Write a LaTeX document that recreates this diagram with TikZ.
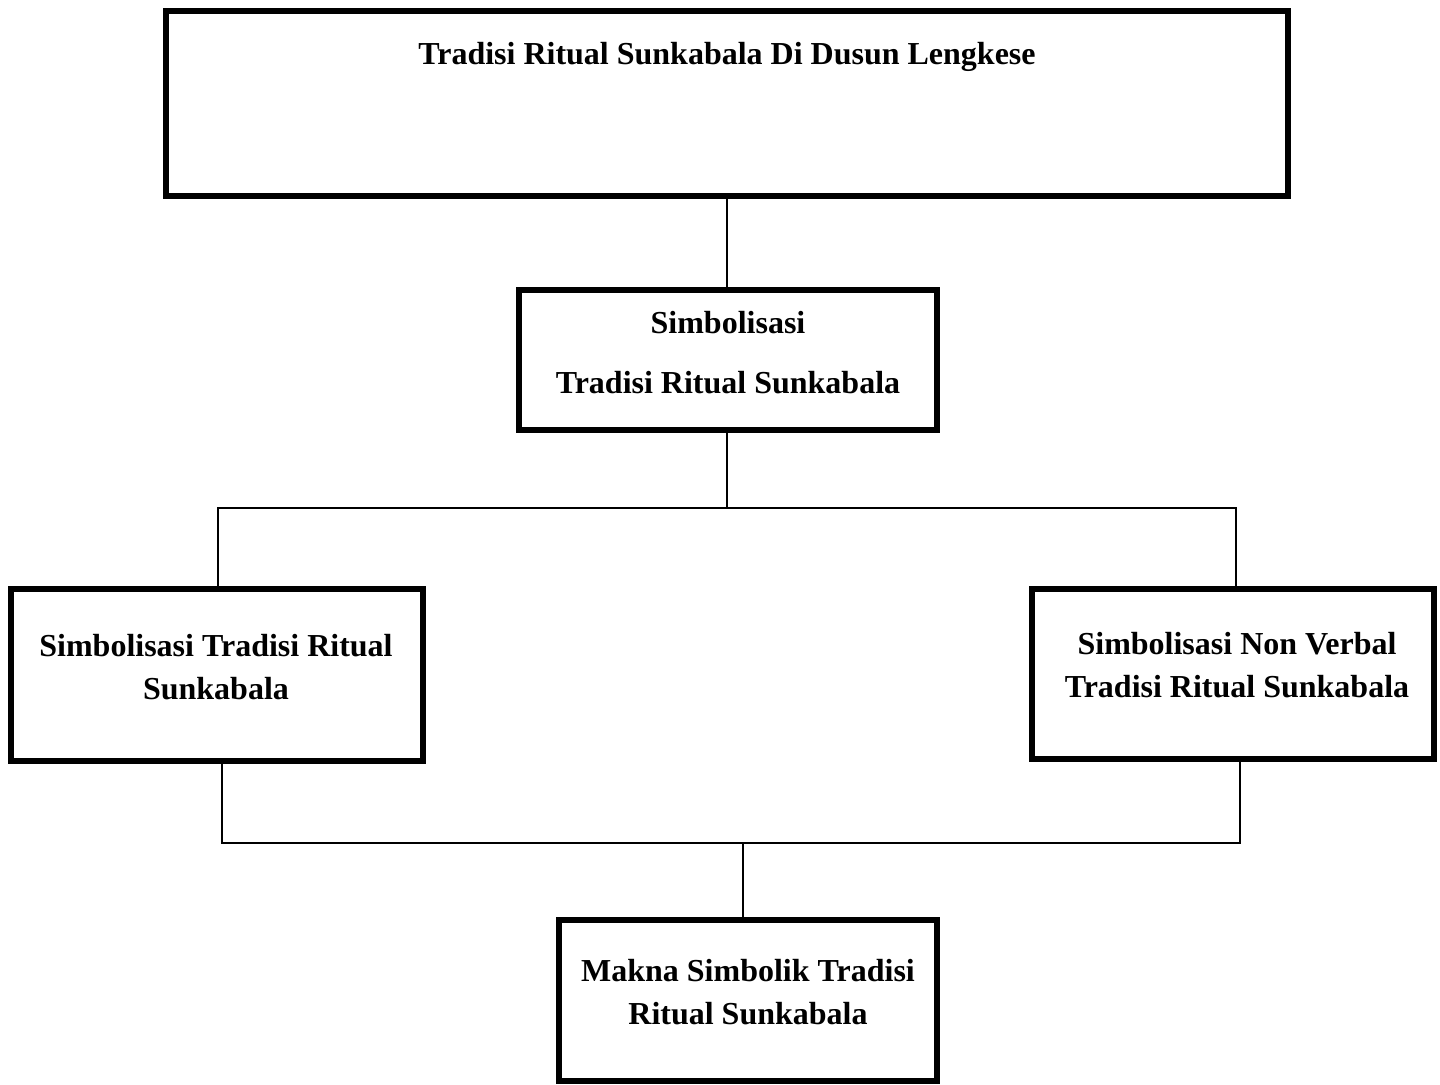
\documentclass[tikz,border=0pt]{standalone}
\usepackage{fontspec}
\setmainfont{Liberation Serif}
\begin{document}
\begin{tikzpicture}[x=0.5pt,y=-0.5pt,
  box/.style={draw, line width=3pt, inner sep=0pt},
  conn/.style={line width=0.8pt},
  lbl/.style={font=\fontsize{16}{21.5}\selectfont\bfseries, align=center, inner sep=0pt}]
\useasboundingbox (0,0) rectangle (1440,1084);
% boxes
\node[box, minimum width=561pt, minimum height=92.5pt] (top) at (727,103) {};
\node[box, minimum width=209pt, minimum height=70pt] (mid) at (728,359.5) {};
\node[box, minimum width=206pt, minimum height=86pt] (left) at (217,675) {};
\node[box, minimum width=201pt, minimum height=85pt] (right) at (1233,674) {};
\node[box, minimum width=189pt, minimum height=80.5pt] (bot) at (748,1000) {};
% texts
\node[lbl] (ttop) at (727,57) {Tradisi Ritual Sunkabala Di Dusun Lengkese};
\node[lbl] (tmid1) at (728,323) {Simbolisasi};
\node[lbl] (tmid2) at (728,383) {Tradisi Ritual Sunkabala};
\node[lbl] (tleft) at (216,667) {Simbolisasi Tradisi Ritual\\Sunkabala};
\node[lbl] (tright) at (1237,665) {Simbolisasi Non Verbal\\Tradisi Ritual Sunkabala};
\node[lbl] (tbot) at (748,992) {Makna Simbolik Tradisi\\Ritual Sunkabala};
% connector coordinates
\coordinate (jl) at (218,508);
\coordinate (jr) at (1236,508);
\coordinate (jm) at (727,508);
\coordinate (bl) at (222,843);
\coordinate (br) at (1240,843);
\coordinate (bm) at (743,843);
% connectors
\draw[conn] (top.south) -- (top.south |- mid.north);
\draw[conn] (mid.south -| jm) -- (jm);
\draw[conn] (left.north -| jl) -- (jl) -- (jr) -- (right.north -| jr);
\draw[conn] (left.south -| bl) -- (bl) -- (br) -- (right.south -| br);
\draw[conn] (bm) -- (bot.north -| bm);
\end{tikzpicture}
\end{document}
